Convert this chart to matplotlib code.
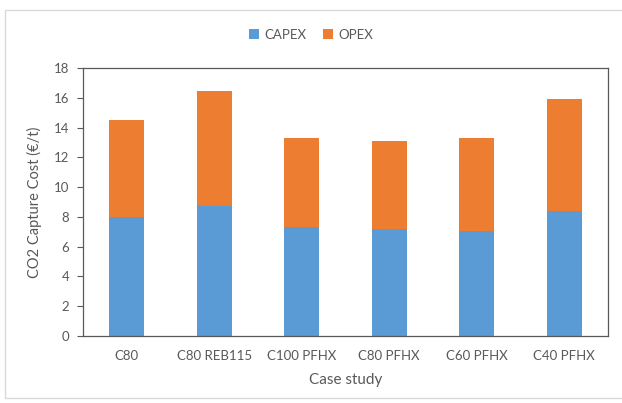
import numpy as np
import matplotlib.pyplot as plt
from matplotlib.patches import Rectangle

# data
cases = ["C80", "C80 REB115", "C100 PFHX", "C80 PFHX", "C60 PFHX", "C40 PFHX"]
capex = [8.0, 8.75, 7.35, 7.18, 7.05, 8.4]
opex_total = [14.5, 16.45, 13.3, 13.08, 13.3, 15.9]
opex = [t - c for t, c in zip(opex_total, capex)]

blue = "#5B9BD5"
orange = "#ED7D31"
grey = "#595959"

plt.rcParams["font.family"] = ["Lato", "DejaVu Sans"]

fig = plt.figure(figsize=(6.22, 4.03), dpi=100)
ax = fig.add_axes([0.1334, 0.1663, 0.8441, 0.665])

# outer chart frame
fig.patches.append(Rectangle((5 / 622, 5 / 403), 1.2, 388 / 403,
                             transform=fig.transFigure, fill=False,
                             edgecolor="#D9D9D9", linewidth=1))

x = np.arange(len(cases))
ax.bar(x, capex, width=0.4, color=blue, label="CAPEX")
ax.bar(x, opex, width=0.4, bottom=capex, color=orange, label="OPEX")

ax.set_xlim(-0.5, len(cases) - 0.5)
ax.set_ylim(0, 18)
ax.set_yticks(range(0, 19, 2))
ax.set_xticks(x)
ax.set_xticklabels(cases)

for s in ax.spines.values():
    s.set_color("#595959")
    s.set_linewidth(0.9)

ax.tick_params(axis="y", colors=grey, labelsize=9.5, length=4, width=0.8,
               labelcolor=grey, pad=6)
ax.tick_params(axis="x", length=0, labelsize=9.5, labelcolor=grey, pad=10)

ax.set_xlabel("Case study", color=grey, fontsize=11, labelpad=8)
ax.set_ylabel("CO2 Capture Cost (€/t)", color=grey, fontsize=10.5, labelpad=8)

fig.legend(loc="center", bbox_to_anchor=(0.5, 1 - 35 / 403), ncol=2,
           frameon=False, fontsize=9.5, labelcolor=grey, handlelength=0.8,
           handleheight=0.8, handletextpad=0.4, columnspacing=1.2)

fig.savefig("out.png", dpi=100)
